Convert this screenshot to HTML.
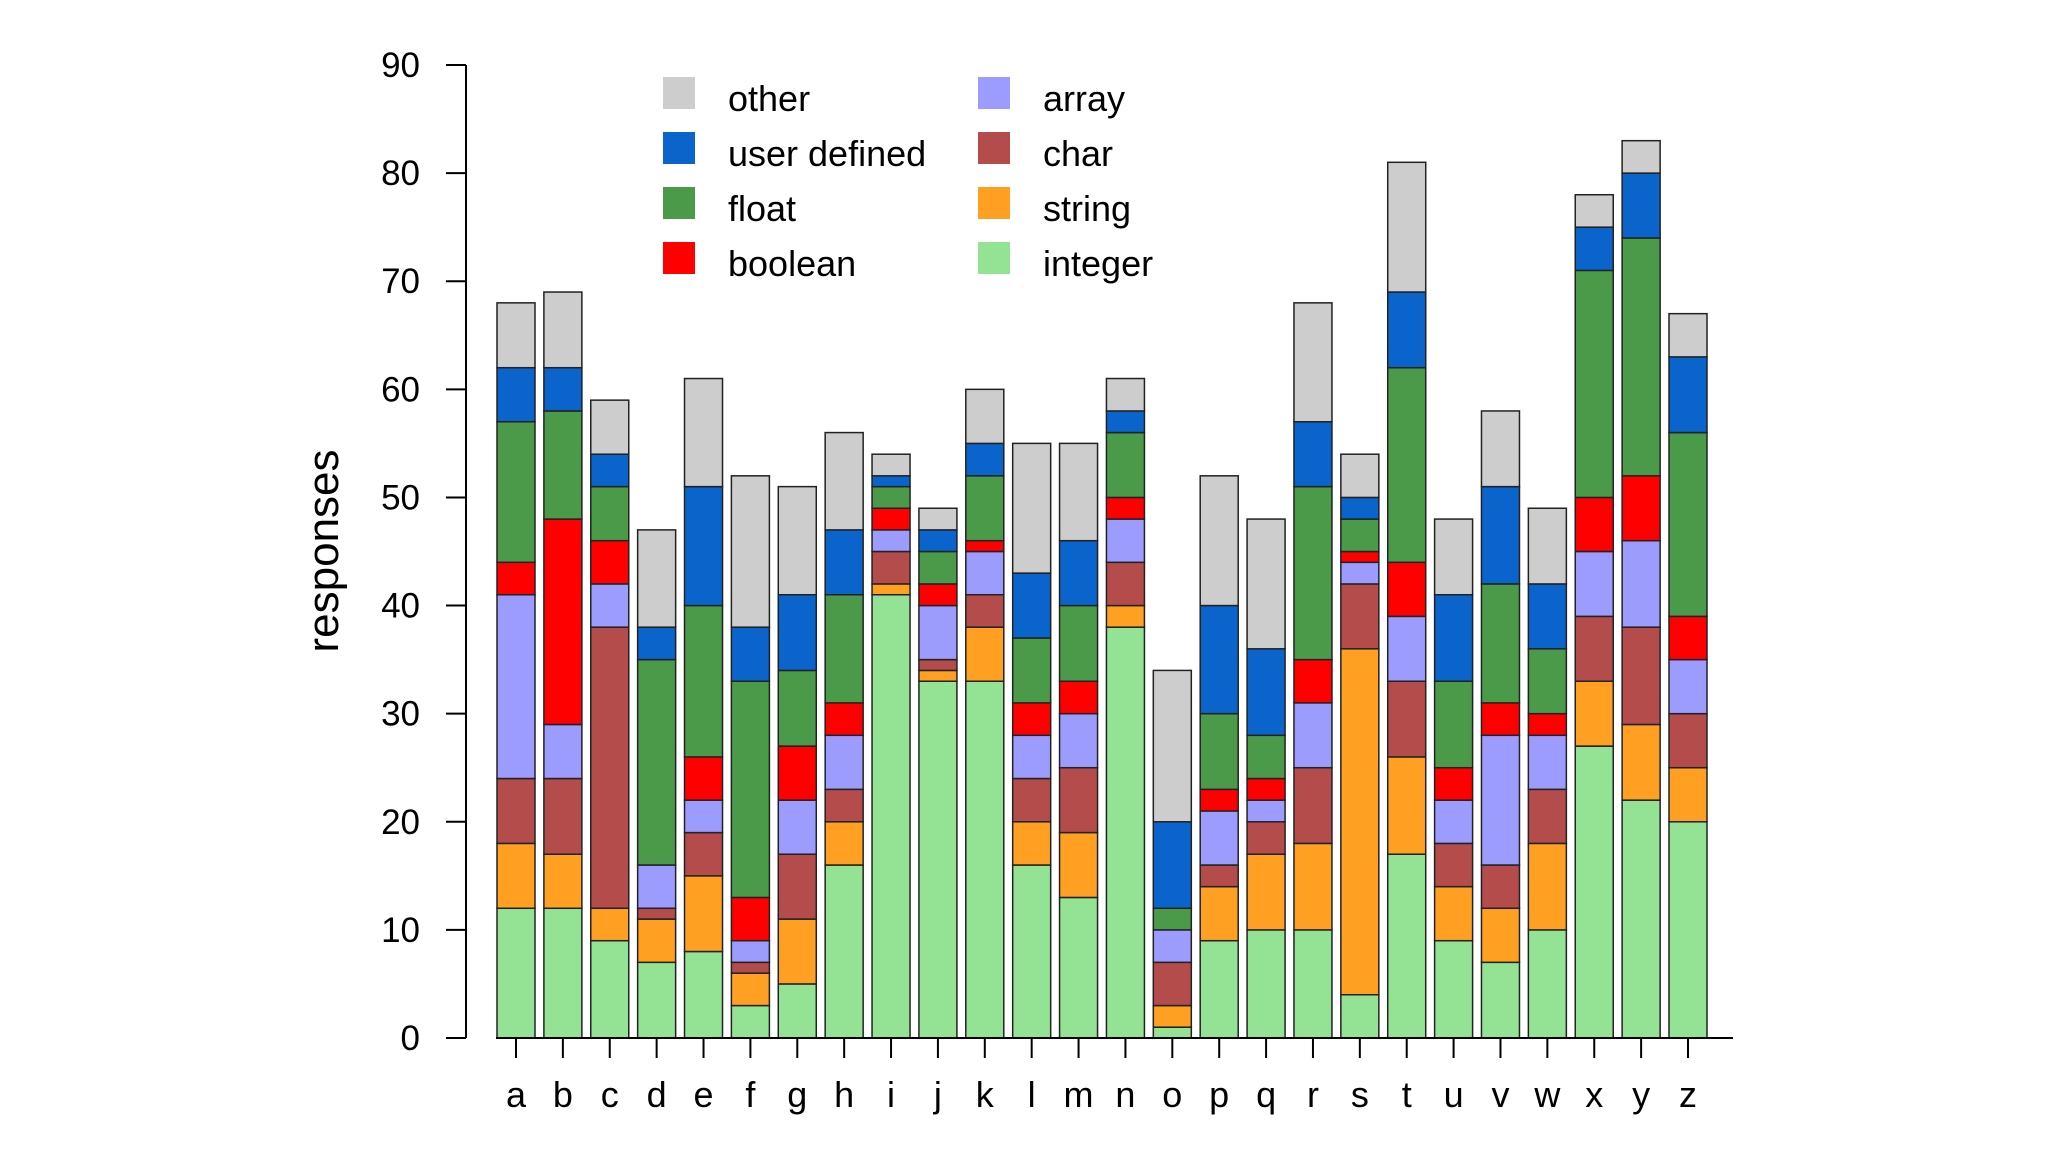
<!DOCTYPE html>
<html><head><meta charset="utf-8"><style>
html,body{margin:0;padding:0;background:#fff;}
svg{display:block;font-family:"Liberation Sans",sans-serif;}
</style></head><body>
<svg id="chart" width="2048" height="1152" viewBox="0 0 2048 1152" xmlns="http://www.w3.org/2000/svg">
<rect width="2048" height="1152" fill="#fff"/>
<g id="bars"></g>
<g id="axes"></g>
<g id="legend"></g>
<text x="0" y="0" transform="translate(338,551) rotate(-90)" text-anchor="middle" font-size="44" fill="#000">responses</text>
</svg>
<script>
const categories = ["a","b","c","d","e","f","g","h","i","j","k","l","m","n","o","p","q","r","s","t","u","v","w","x","y","z"];
const integerVals = [12,12,9,7,8,3,5,16,41,33,33,16,13,38,1,9,10,10,4,17,9,7,10,27,22,20];
const stringVals  = [6,5,3,4,7,3,6,4,1,1,5,4,6,2,2,5,7,8,32,9,5,5,8,6,7,5];
const charVals    = [6,7,26,1,4,1,6,3,3,1,3,4,6,4,4,2,3,7,6,7,4,4,5,6,9,5];
const arrayVals   = [17,5,4,4,3,2,5,5,2,5,4,4,5,4,3,5,2,6,2,6,4,12,5,6,8,5];
const booleanVals = [3,19,4,0,4,4,5,3,2,2,1,3,3,2,0,2,2,4,1,5,3,3,2,5,6,4];
const floatVals   = [13,10,5,19,14,20,7,10,2,3,6,6,7,6,2,7,4,16,3,18,8,11,6,21,22,17];
const userVals    = [5,4,3,3,11,5,7,6,1,2,3,6,6,2,8,10,8,6,2,7,8,9,6,4,6,7];
const otherVals   = [6,7,5,9,10,14,10,9,2,2,5,12,9,3,14,12,12,11,4,12,7,7,7,3,3,4];
const yTicks = [0,10,20,30,40,50,60,70,80,90];

const seriesNames = ["integer","string","char","array","boolean","float","user defined","other"];
const seriesVals = [integerVals,stringVals,charVals,arrayVals,booleanVals,floatVals,userVals,otherVals];
const colors = ["#94e294","#ffa023","#b44c4c","#9c9cff","#ff0000","#4a9a4a","#0a64cc","#cdcdcd"];

const NS="http://www.w3.org/2000/svg";
const y0=1038, ppu=(1038-65)/90;
const yS=v=>y0-v*ppu;
const x0=516, step=46.88, bw=38;
const xS=i=>x0+i*step;
function mk(tag,attrs,parent){const e=document.createElementNS(NS,tag);for(const k in attrs)e.setAttribute(k,attrs[k]);parent.appendChild(e);return e;}

const bars=document.getElementById('bars');
categories.forEach((c,i)=>{
  let cum=0;
  seriesVals.forEach((arr,s)=>{
    const v=arr[i]; if(v<=0){return;}
    const r=mk('rect',{x:xS(i)-bw/2,y:yS(cum+v),width:bw,height:v*ppu,fill:colors[s],stroke:"#222","stroke-width":1.5},bars);
    
    
    cum+=v;
  });
});

const axes=document.getElementById('axes');
const yl=mk('line',{x1:466,y1:yS(0),x2:466,y2:yS(90),stroke:"#000","stroke-width":2},axes);


yTicks.forEach(t=>{
  const tk=mk('line',{x1:446,y1:yS(t),x2:466,y2:yS(t),stroke:"#000","stroke-width":2},axes);
  
  
  const tx=mk('text',{x:420,y:yS(t)+12,"text-anchor":"end","font-size":35,fill:"#000"},axes);
  tx.textContent=t;
  
  
});
const xl=mk('line',{x1:xS(0)-20,y1:y0,x2:1733,y2:y0,stroke:"#000","stroke-width":2},axes);


categories.forEach((c,i)=>{
  const tk=mk('line',{x1:xS(i),y1:y0,x2:xS(i),y2:y0+20,stroke:"#000","stroke-width":2},axes);
  
  
  const tx=mk('text',{x:xS(i),y:1107,"text-anchor":"middle","font-size":36,fill:"#000"},axes);
  tx.textContent=c;
  
  
});

const legend=document.getElementById('legend');
const legItems=[[7,663,94],[6,663,149],[5,663,204],[4,663,259],[3,978,94],[2,978,149],[1,978,204],[0,978,259]];
legItems.forEach(([s,lx,ly])=>{
  const g=mk('g',{},legend);
  
  
  const sw=mk('rect',{x:lx,y:ly-17,width:32,height:32,fill:colors[s]},g);
  
  
  const t=mk('text',{x:lx+65,y:ly+17,"font-size":36,fill:"#000"},g);
  t.textContent=seriesNames[s];
  
  
});
</script>
</body></html>
